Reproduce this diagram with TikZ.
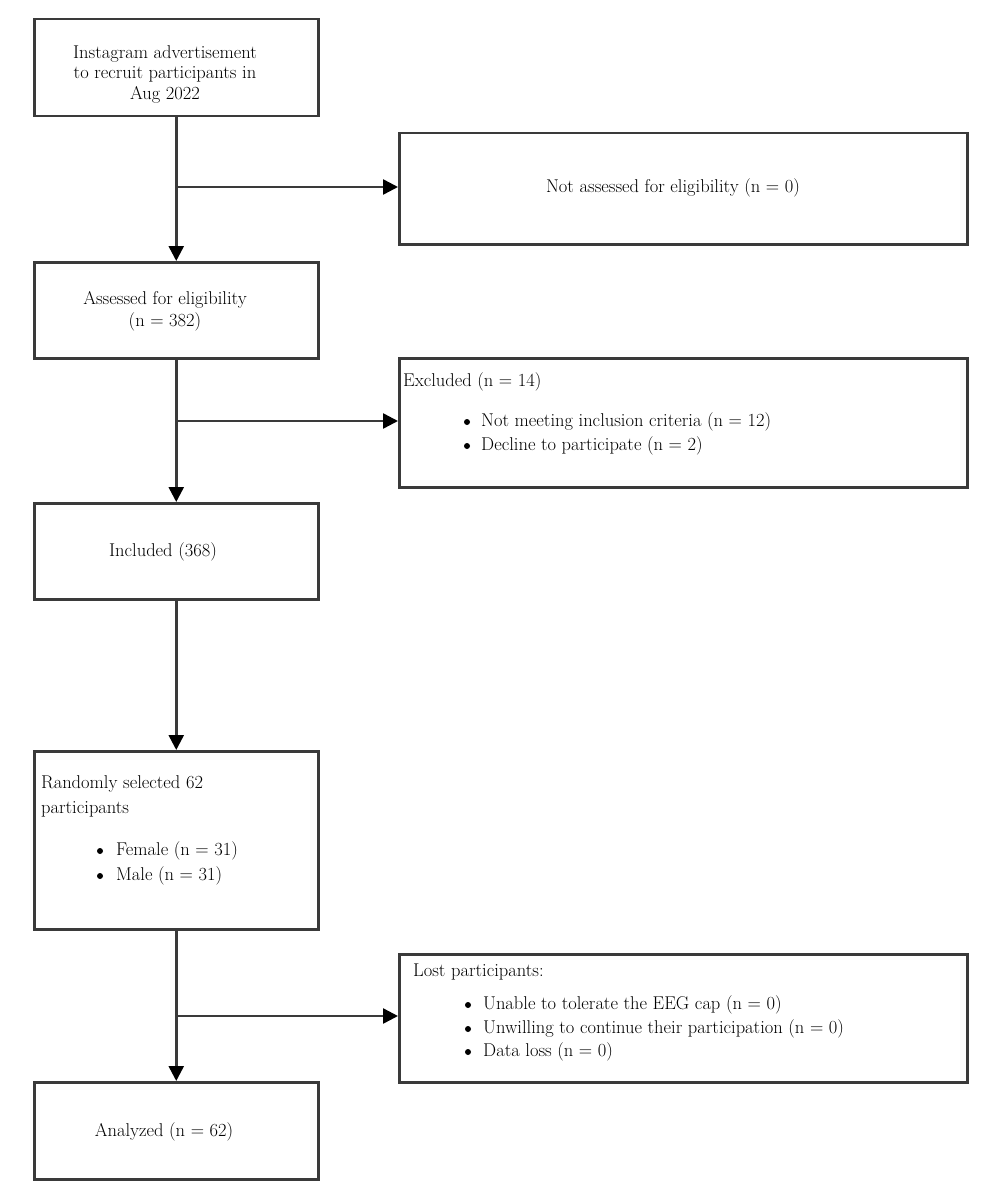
\documentclass[tikz,border=0pt]{standalone}
\usetikzlibrary{arrows.meta}
\definecolor{linec}{HTML}{3A3A3A}
\begin{document}
\begin{tikzpicture}[x=1pt,y=-1pt,
  box/.style={draw=linec,line width=2.5pt,minimum width=284pt,inner sep=0pt,anchor=north west},
  wbox/.style={draw=linec,line width=2.5pt,minimum width=568pt,inner sep=0pt,anchor=north west},
  txt/.style={font=\fontsize{18.5}{22}\selectfont,inner sep=0pt,align=center},
  ltxt/.style={font=\fontsize{18.5}{22}\selectfont,inner sep=0pt,anchor=west},
  bul/.style={circle,fill=black,inner sep=0pt,minimum size=6pt},
  arr/.style={draw=linec,line width=2.5pt,-{Triangle[width=15pt,length=15pt,fill=black,color=black]}}]
\useasboundingbox (0,0) rectangle (1000,1204);
% boxes
\node[box,minimum height=97pt] (b1) at (33,18) {};
\node[wbox,minimum height=111pt] (na) at (398,132) {};
\node[box,minimum height=96pt] (b2) at (33,261) {};
\node[wbox,minimum height=129pt] (ex) at (398,357) {};
\node[box,minimum height=96pt] (b3) at (33,502) {};
\node[box,minimum height=178pt] (b4) at (33,750) {};
\node[wbox,minimum height=128pt] (lo) at (398,953) {};
\node[box,minimum height=97pt] (b5) at (33,1081) {};
% texts
\node[txt,font=\fontsize{18.5}{20.5}\selectfont] (t1) at (165,74) {Instagram advertisement\\to recruit participants in\\Aug 2022};
\node[txt] (tna) at (673,188) {Not assessed for eligibility (n = 0)};
\node[txt] (t2) at (165,311) {Assessed for eligibility\\(n = 382)};
\node[ltxt] (tex) at (403,382) {Excluded (n = 14)};
\node[bul] (be1) at (467,422) {};
\node[ltxt] (te1) at (481,422) {Not meeting inclusion criteria (n = 12)};
\node[bul] (be2) at (467,446) {};
\node[ltxt] (te2) at (481,446) {Decline to participate (n = 2)};
\node[txt] (t3) at (163,552) {Included (368)};
\node[ltxt] (t4a) at (41,784) {Randomly selected 62};
\node[ltxt] (t4b) at (41,809) {participants};
\node[bul] (bf) at (100,851) {};
\node[ltxt] (tf) at (116,851) {Female (n = 31)};
\node[bul] (bm) at (100,876) {};
\node[ltxt] (tm) at (116,876) {Male (n = 31)};
\node[ltxt] (tlo) at (413,972) {Lost participants:};
\node[bul] (bl1) at (468,1005) {};
\node[ltxt] (tl1) at (483,1005) {Unable to tolerate the EEG cap (n = 0)};
\node[bul] (bl2) at (468,1029) {};
\node[ltxt] (tl2) at (483,1029) {Unwilling to continue their participation (n = 0)};
\node[bul] (bl3) at (468,1052) {};
\node[ltxt] (tl3) at (483,1052) {Data loss (n = 0)};
\node[txt] (t5) at (164,1132) {Analyzed (n = 62)};
% connectors
\coordinate (j1) at (175,187);
\coordinate (j2) at (175,421);
\coordinate (j3) at (175,1016);
\draw[arr] (b1.south) -- (b2.north);
\draw[arr] (b2.south) -- (b3.north);
\draw[arr] (b3.south) -- (b4.north);
\draw[arr] (b4.south) -- (b5.north);
\draw[arr] (j1) -- (j1 -| na.west);
\draw[arr] (j2) -- (j2 -| ex.west);
\draw[arr] (j3) -- (j3 -| lo.west);
\end{tikzpicture}
\end{document}
